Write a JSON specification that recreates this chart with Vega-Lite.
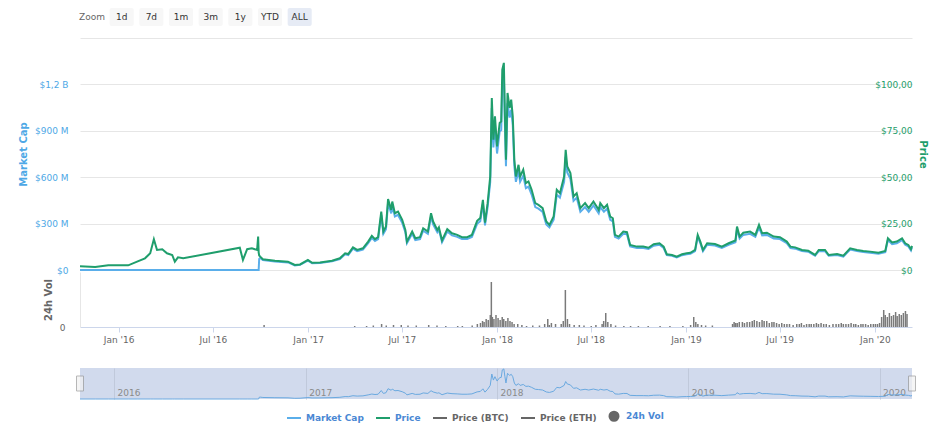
{
  "$schema": "https://vega.github.io/schema/vega-lite/v6.json",
  "padding": {"left": 18, "top": 8, "right": 5, "bottom": 0},
  "background": "white",
  "config": {
    "view": {"stroke": null},
    "font": "DejaVu Sans",
    "axis": {"labelFont": "DejaVu Sans", "titleFont": "DejaVu Sans", "labelFontSize": 9}
  },
  "datasets": {
    "buttons": [
      {"label": "Zoom"}, {"label": "1d"}, {"label": "7d"}, {"label": "1m"},
      {"label": "3m"}, {"label": "1y"}, {"label": "YTD"}, {"label": "ALL"}
    ],
    "range": [{"date": "2015-10-28"}, {"date": "2020-03-03"}],
    "prices": [
      {"date": "2015-10-28", "price": 2.0, "mcap": 0},
      {"date": "2015-11-26", "price": 1.6, "mcap": 0},
      {"date": "2015-12-21", "price": 2.5, "mcap": 0},
      {"date": "2016-01-28", "price": 2.5, "mcap": 0},
      {"date": "2016-02-14", "price": 4.5, "mcap": 0},
      {"date": "2016-02-29", "price": 6.3, "mcap": 0},
      {"date": "2016-03-10", "price": 9.0, "mcap": 0},
      {"date": "2016-03-17", "price": 16.6, "mcap": 0},
      {"date": "2016-03-23", "price": 10.8, "mcap": 0},
      {"date": "2016-04-02", "price": 11.2, "mcap": 0},
      {"date": "2016-04-11", "price": 9.0, "mcap": 0},
      {"date": "2016-04-21", "price": 8.1, "mcap": 0},
      {"date": "2016-04-26", "price": 4.5, "mcap": 0},
      {"date": "2016-05-02", "price": 6.8, "mcap": 0},
      {"date": "2016-05-12", "price": 6.3, "mcap": 0},
      {"date": "2016-08-28", "price": 12.0, "mcap": 0},
      {"date": "2016-09-03", "price": 5.4, "mcap": 0},
      {"date": "2016-09-11", "price": 11.2, "mcap": 0},
      {"date": "2016-09-20", "price": 11.7, "mcap": 0},
      {"date": "2016-09-30", "price": 10.8, "mcap": 0},
      {"date": "2016-10-02", "price": 18.0, "mcap": 0},
      {"date": "2016-10-03", "price": 9.5, "mcap": 0},
      {"date": "2016-10-04", "price": 7.8, "mcap": 72000000},
      {"date": "2016-10-06", "price": 7.2, "mcap": 78000000},
      {"date": "2016-10-11", "price": 5.8, "mcap": 64000000},
      {"date": "2016-11-03", "price": 5.0, "mcap": 55000000},
      {"date": "2016-11-28", "price": 4.5, "mcap": 49000000},
      {"date": "2016-12-11", "price": 2.7, "mcap": 29000000},
      {"date": "2016-12-21", "price": 3.0, "mcap": 33000000},
      {"date": "2017-01-05", "price": 5.4, "mcap": 61000000},
      {"date": "2017-01-13", "price": 3.9, "mcap": 44000000},
      {"date": "2017-01-28", "price": 4.1, "mcap": 46000000},
      {"date": "2017-02-20", "price": 5.0, "mcap": 56000000},
      {"date": "2017-03-07", "price": 6.3, "mcap": 71000000},
      {"date": "2017-03-17", "price": 9.0, "mcap": 102000000},
      {"date": "2017-03-23", "price": 8.6, "mcap": 97000000},
      {"date": "2017-04-01", "price": 12.2, "mcap": 138000000},
      {"date": "2017-04-09", "price": 10.8, "mcap": 122000000},
      {"date": "2017-04-20", "price": 11.7, "mcap": 132000000},
      {"date": "2017-04-30", "price": 15.3, "mcap": 173000000},
      {"date": "2017-05-07", "price": 18.4, "mcap": 208000000},
      {"date": "2017-05-13", "price": 16.6, "mcap": 188000000},
      {"date": "2017-05-19", "price": 17.7, "mcap": 200000000},
      {"date": "2017-05-25", "price": 31.5, "mcap": 356000000},
      {"date": "2017-05-29", "price": 20.7, "mcap": 234000000},
      {"date": "2017-06-03", "price": 23.4, "mcap": 264000000},
      {"date": "2017-06-07", "price": 38.2, "mcap": 432000000},
      {"date": "2017-06-13", "price": 32.4, "mcap": 366000000},
      {"date": "2017-06-15", "price": 36.9, "mcap": 417000000},
      {"date": "2017-06-20", "price": 30.6, "mcap": 346000000},
      {"date": "2017-06-26", "price": 31.5, "mcap": 356000000},
      {"date": "2017-07-04", "price": 27.0, "mcap": 305000000},
      {"date": "2017-07-10", "price": 21.6, "mcap": 244000000},
      {"date": "2017-07-13", "price": 15.3, "mcap": 173000000},
      {"date": "2017-07-23", "price": 20.7, "mcap": 234000000},
      {"date": "2017-07-29", "price": 17.1, "mcap": 193000000},
      {"date": "2017-08-07", "price": 17.7, "mcap": 200000000},
      {"date": "2017-08-13", "price": 22.5, "mcap": 254000000},
      {"date": "2017-08-22", "price": 20.7, "mcap": 234000000},
      {"date": "2017-08-28", "price": 30.6, "mcap": 346000000},
      {"date": "2017-09-01", "price": 26.1, "mcap": 295000000},
      {"date": "2017-09-09", "price": 21.6, "mcap": 244000000},
      {"date": "2017-09-12", "price": 23.0, "mcap": 260000000},
      {"date": "2017-09-18", "price": 15.9, "mcap": 180000000},
      {"date": "2017-09-28", "price": 22.0, "mcap": 249000000},
      {"date": "2017-10-07", "price": 19.8, "mcap": 224000000},
      {"date": "2017-10-17", "price": 18.9, "mcap": 214000000},
      {"date": "2017-10-26", "price": 17.7, "mcap": 200000000},
      {"date": "2017-11-05", "price": 17.7, "mcap": 200000000},
      {"date": "2017-11-14", "price": 18.9, "mcap": 214000000},
      {"date": "2017-11-24", "price": 26.5, "mcap": 299000000},
      {"date": "2017-11-30", "price": 28.0, "mcap": 316000000},
      {"date": "2017-12-05", "price": 37.8, "mcap": 427000000},
      {"date": "2017-12-09", "price": 25.5, "mcap": 288000000},
      {"date": "2017-12-14", "price": 36.0, "mcap": 407000000},
      {"date": "2017-12-19", "price": 50.4, "mcap": 570000000},
      {"date": "2017-12-22", "price": 92.7, "mcap": 1048000000},
      {"date": "2017-12-25", "price": 70.2, "mcap": 793000000},
      {"date": "2017-12-28", "price": 82.8, "mcap": 936000000},
      {"date": "2018-01-01", "price": 66.6, "mcap": 753000000},
      {"date": "2018-01-06", "price": 79.2, "mcap": 895000000},
      {"date": "2018-01-09", "price": 80.1, "mcap": 905000000},
      {"date": "2018-01-11", "price": 108.0, "mcap": 1220000000},
      {"date": "2018-01-14", "price": 111.6, "mcap": 1261000000},
      {"date": "2018-01-16", "price": 82.8, "mcap": 936000000},
      {"date": "2018-01-18", "price": 59.4, "mcap": 671000000},
      {"date": "2018-01-21", "price": 95.4, "mcap": 1078000000},
      {"date": "2018-01-25", "price": 87.3, "mcap": 986000000},
      {"date": "2018-01-28", "price": 91.8, "mcap": 1037000000},
      {"date": "2018-01-31", "price": 82.8, "mcap": 936000000},
      {"date": "2018-02-03", "price": 59.4, "mcap": 671000000},
      {"date": "2018-02-06", "price": 50.4, "mcap": 570000000},
      {"date": "2018-02-11", "price": 56.7, "mcap": 641000000},
      {"date": "2018-02-14", "price": 50.4, "mcap": 570000000},
      {"date": "2018-02-20", "price": 54.0, "mcap": 610000000},
      {"date": "2018-02-25", "price": 46.8, "mcap": 529000000},
      {"date": "2018-03-02", "price": 47.7, "mcap": 539000000},
      {"date": "2018-03-08", "price": 43.2, "mcap": 488000000},
      {"date": "2018-03-15", "price": 36.0, "mcap": 407000000},
      {"date": "2018-03-21", "price": 35.1, "mcap": 397000000},
      {"date": "2018-03-29", "price": 33.3, "mcap": 376000000},
      {"date": "2018-04-05", "price": 26.1, "mcap": 295000000},
      {"date": "2018-04-11", "price": 24.3, "mcap": 275000000},
      {"date": "2018-04-19", "price": 28.8, "mcap": 325000000},
      {"date": "2018-04-25", "price": 43.2, "mcap": 488000000},
      {"date": "2018-05-01", "price": 41.4, "mcap": 468000000},
      {"date": "2018-05-09", "price": 50.4, "mcap": 570000000},
      {"date": "2018-05-12", "price": 64.8, "mcap": 732000000},
      {"date": "2018-05-15", "price": 55.8, "mcap": 631000000},
      {"date": "2018-05-21", "price": 52.2, "mcap": 590000000},
      {"date": "2018-05-27", "price": 39.6, "mcap": 447000000},
      {"date": "2018-06-02", "price": 41.4, "mcap": 468000000},
      {"date": "2018-06-09", "price": 33.3, "mcap": 376000000},
      {"date": "2018-06-18", "price": 36.0, "mcap": 407000000},
      {"date": "2018-06-25", "price": 33.3, "mcap": 376000000},
      {"date": "2018-07-04", "price": 36.9, "mcap": 417000000},
      {"date": "2018-07-14", "price": 32.4, "mcap": 366000000},
      {"date": "2018-07-17", "price": 36.0, "mcap": 407000000},
      {"date": "2018-07-24", "price": 33.3, "mcap": 376000000},
      {"date": "2018-07-30", "price": 35.1, "mcap": 397000000},
      {"date": "2018-08-05", "price": 28.8, "mcap": 325000000},
      {"date": "2018-08-10", "price": 27.9, "mcap": 315000000},
      {"date": "2018-08-14", "price": 18.9, "mcap": 214000000},
      {"date": "2018-08-21", "price": 18.0, "mcap": 203000000},
      {"date": "2018-08-30", "price": 20.7, "mcap": 234000000},
      {"date": "2018-09-06", "price": 20.4, "mcap": 231000000},
      {"date": "2018-09-12", "price": 13.5, "mcap": 153000000},
      {"date": "2018-09-25", "price": 12.6, "mcap": 142000000},
      {"date": "2018-10-07", "price": 12.6, "mcap": 142000000},
      {"date": "2018-10-17", "price": 12.0, "mcap": 136000000},
      {"date": "2018-10-27", "price": 13.9, "mcap": 157000000},
      {"date": "2018-11-07", "price": 14.4, "mcap": 163000000},
      {"date": "2018-11-15", "price": 12.6, "mcap": 142000000},
      {"date": "2018-11-21", "price": 8.5, "mcap": 96000000},
      {"date": "2018-12-01", "price": 8.1, "mcap": 92000000},
      {"date": "2018-12-10", "price": 7.2, "mcap": 81000000},
      {"date": "2018-12-20", "price": 8.5, "mcap": 96000000},
      {"date": "2018-12-29", "price": 9.0, "mcap": 102000000},
      {"date": "2019-01-05", "price": 9.3, "mcap": 105000000},
      {"date": "2019-01-14", "price": 10.8, "mcap": 122000000},
      {"date": "2019-01-19", "price": 18.9, "mcap": 214000000},
      {"date": "2019-01-24", "price": 15.3, "mcap": 173000000},
      {"date": "2019-01-29", "price": 10.8, "mcap": 122000000},
      {"date": "2019-02-06", "price": 14.4, "mcap": 163000000},
      {"date": "2019-02-21", "price": 14.0, "mcap": 158000000},
      {"date": "2019-03-06", "price": 12.6, "mcap": 142000000},
      {"date": "2019-03-19", "price": 14.4, "mcap": 163000000},
      {"date": "2019-04-01", "price": 15.9, "mcap": 180000000},
      {"date": "2019-04-04", "price": 23.4, "mcap": 264000000},
      {"date": "2019-04-09", "price": 18.0, "mcap": 203000000},
      {"date": "2019-04-16", "price": 20.1, "mcap": 227000000},
      {"date": "2019-04-29", "price": 20.7, "mcap": 234000000},
      {"date": "2019-05-09", "price": 18.9, "mcap": 214000000},
      {"date": "2019-05-16", "price": 24.3, "mcap": 275000000},
      {"date": "2019-05-22", "price": 19.8, "mcap": 224000000},
      {"date": "2019-05-31", "price": 20.1, "mcap": 227000000},
      {"date": "2019-06-13", "price": 18.0, "mcap": 203000000},
      {"date": "2019-06-25", "price": 17.7, "mcap": 200000000},
      {"date": "2019-07-08", "price": 15.3, "mcap": 173000000},
      {"date": "2019-07-15", "price": 12.6, "mcap": 142000000},
      {"date": "2019-07-24", "price": 12.2, "mcap": 138000000},
      {"date": "2019-08-06", "price": 10.8, "mcap": 122000000},
      {"date": "2019-08-18", "price": 10.4, "mcap": 118000000},
      {"date": "2019-08-31", "price": 8.1, "mcap": 92000000},
      {"date": "2019-09-07", "price": 10.8, "mcap": 122000000},
      {"date": "2019-09-19", "price": 10.8, "mcap": 122000000},
      {"date": "2019-09-26", "price": 8.1, "mcap": 92000000},
      {"date": "2019-10-12", "price": 8.6, "mcap": 97000000},
      {"date": "2019-10-24", "price": 7.7, "mcap": 87000000},
      {"date": "2019-11-06", "price": 11.7, "mcap": 132000000},
      {"date": "2019-11-19", "price": 10.8, "mcap": 122000000},
      {"date": "2019-12-01", "price": 10.3, "mcap": 116000000},
      {"date": "2019-12-14", "price": 9.9, "mcap": 112000000},
      {"date": "2019-12-30", "price": 9.3, "mcap": 105000000},
      {"date": "2020-01-12", "price": 10.3, "mcap": 116000000},
      {"date": "2020-01-17", "price": 17.1, "mcap": 193000000},
      {"date": "2020-01-25", "price": 14.8, "mcap": 167000000},
      {"date": "2020-02-03", "price": 15.3, "mcap": 173000000},
      {"date": "2020-02-13", "price": 17.1, "mcap": 193000000},
      {"date": "2020-02-19", "price": 14.4, "mcap": 163000000},
      {"date": "2020-02-25", "price": 13.5, "mcap": 153000000},
      {"date": "2020-03-01", "price": 11.2, "mcap": 127000000},
      {"date": "2020-03-03", "price": 13.0, "mcap": 147000000}
    ],
    "volume": [
      {"date": "2016-10-08", "vol": 2000000},
      {"date": "2017-04-01", "vol": 1000000},
      {"date": "2017-04-24", "vol": 1000000},
      {"date": "2017-05-07", "vol": 1500000},
      {"date": "2017-05-23", "vol": 3000000},
      {"date": "2017-06-01", "vol": 1500000},
      {"date": "2017-06-15", "vol": 2000000},
      {"date": "2017-06-30", "vol": 2000000},
      {"date": "2017-07-13", "vol": 1500000},
      {"date": "2017-07-29", "vol": 1500000},
      {"date": "2017-08-22", "vol": 2000000},
      {"date": "2017-09-07", "vol": 1500000},
      {"date": "2017-09-24", "vol": 1000000},
      {"date": "2017-10-17", "vol": 1000000},
      {"date": "2017-10-26", "vol": 1000000},
      {"date": "2017-11-14", "vol": 1500000},
      {"date": "2017-11-24", "vol": 3000000},
      {"date": "2017-11-30", "vol": 4000000},
      {"date": "2017-12-04", "vol": 6000000},
      {"date": "2017-12-07", "vol": 5000000},
      {"date": "2017-12-11", "vol": 8000000},
      {"date": "2017-12-15", "vol": 7000000},
      {"date": "2017-12-19", "vol": 12000000},
      {"date": "2017-12-21", "vol": 45000000},
      {"date": "2017-12-23", "vol": 10000000},
      {"date": "2017-12-26", "vol": 8000000},
      {"date": "2017-12-30", "vol": 12000000},
      {"date": "2018-01-03", "vol": 9000000},
      {"date": "2018-01-07", "vol": 7000000},
      {"date": "2018-01-11", "vol": 10000000},
      {"date": "2018-01-14", "vol": 8000000},
      {"date": "2018-01-18", "vol": 6000000},
      {"date": "2018-01-22", "vol": 9000000},
      {"date": "2018-01-26", "vol": 6000000},
      {"date": "2018-01-30", "vol": 5000000},
      {"date": "2018-02-03", "vol": 3000000},
      {"date": "2018-02-10", "vol": 3000000},
      {"date": "2018-02-18", "vol": 2000000},
      {"date": "2018-02-27", "vol": 1000000},
      {"date": "2018-03-11", "vol": 1500000},
      {"date": "2018-03-24", "vol": 1500000},
      {"date": "2018-04-03", "vol": 3000000},
      {"date": "2018-04-09", "vol": 8000000},
      {"date": "2018-04-12", "vol": 2000000},
      {"date": "2018-04-16", "vol": 4000000},
      {"date": "2018-04-24", "vol": 3000000},
      {"date": "2018-05-05", "vol": 3000000},
      {"date": "2018-05-09", "vol": 6000000},
      {"date": "2018-05-13", "vol": 37000000},
      {"date": "2018-05-17", "vol": 8000000},
      {"date": "2018-05-21", "vol": 3000000},
      {"date": "2018-05-30", "vol": 2000000},
      {"date": "2018-06-09", "vol": 2000000},
      {"date": "2018-06-18", "vol": 1500000},
      {"date": "2018-07-02", "vol": 1000000},
      {"date": "2018-07-11", "vol": 2000000},
      {"date": "2018-07-23", "vol": 3000000},
      {"date": "2018-07-26", "vol": 6000000},
      {"date": "2018-07-30", "vol": 14000000},
      {"date": "2018-08-03", "vol": 5000000},
      {"date": "2018-08-09", "vol": 3000000},
      {"date": "2018-08-18", "vol": 1500000},
      {"date": "2018-09-03", "vol": 1000000},
      {"date": "2018-09-16", "vol": 1000000},
      {"date": "2018-10-01", "vol": 1000000},
      {"date": "2018-10-20", "vol": 1000000},
      {"date": "2018-11-12", "vol": 1000000},
      {"date": "2018-12-01", "vol": 1000000},
      {"date": "2018-12-26", "vol": 1000000},
      {"date": "2019-01-10", "vol": 2000000},
      {"date": "2019-01-16", "vol": 10000000},
      {"date": "2019-01-20", "vol": 5000000},
      {"date": "2019-01-24", "vol": 3000000},
      {"date": "2019-01-31", "vol": 2000000},
      {"date": "2019-02-08", "vol": 1500000},
      {"date": "2019-02-21", "vol": 1500000},
      {"date": "2019-04-01", "vol": 3000000},
      {"date": "2019-04-04", "vol": 5000000},
      {"date": "2019-04-07", "vol": 4000000},
      {"date": "2019-04-10", "vol": 4000000},
      {"date": "2019-04-14", "vol": 5000000},
      {"date": "2019-04-20", "vol": 5000000},
      {"date": "2019-04-24", "vol": 4000000},
      {"date": "2019-04-29", "vol": 5000000},
      {"date": "2019-05-04", "vol": 5000000},
      {"date": "2019-05-09", "vol": 6000000},
      {"date": "2019-05-13", "vol": 7000000},
      {"date": "2019-05-18", "vol": 6000000},
      {"date": "2019-05-23", "vol": 5000000},
      {"date": "2019-05-28", "vol": 7000000},
      {"date": "2019-06-01", "vol": 6000000},
      {"date": "2019-06-06", "vol": 6000000},
      {"date": "2019-06-11", "vol": 4000000},
      {"date": "2019-06-16", "vol": 5000000},
      {"date": "2019-06-20", "vol": 5000000},
      {"date": "2019-06-25", "vol": 4000000},
      {"date": "2019-06-30", "vol": 3000000},
      {"date": "2019-07-05", "vol": 4000000},
      {"date": "2019-07-10", "vol": 3000000},
      {"date": "2019-07-15", "vol": 3000000},
      {"date": "2019-07-20", "vol": 3000000},
      {"date": "2019-07-27", "vol": 2000000},
      {"date": "2019-08-03", "vol": 3000000},
      {"date": "2019-08-08", "vol": 3000000},
      {"date": "2019-08-12", "vol": 4000000},
      {"date": "2019-08-17", "vol": 2000000},
      {"date": "2019-08-22", "vol": 3000000},
      {"date": "2019-08-27", "vol": 3000000},
      {"date": "2019-08-31", "vol": 3000000},
      {"date": "2019-09-05", "vol": 3000000},
      {"date": "2019-09-10", "vol": 4000000},
      {"date": "2019-09-14", "vol": 3000000},
      {"date": "2019-09-19", "vol": 4000000},
      {"date": "2019-09-24", "vol": 3000000},
      {"date": "2019-09-29", "vol": 3000000},
      {"date": "2019-10-05", "vol": 2000000},
      {"date": "2019-10-12", "vol": 3000000},
      {"date": "2019-10-18", "vol": 3000000},
      {"date": "2019-10-23", "vol": 3000000},
      {"date": "2019-10-28", "vol": 4000000},
      {"date": "2019-11-01", "vol": 3000000},
      {"date": "2019-11-06", "vol": 3000000},
      {"date": "2019-11-11", "vol": 3000000},
      {"date": "2019-11-16", "vol": 4000000},
      {"date": "2019-11-21", "vol": 3000000},
      {"date": "2019-11-25", "vol": 3000000},
      {"date": "2019-11-30", "vol": 2000000},
      {"date": "2019-12-05", "vol": 3000000},
      {"date": "2019-12-09", "vol": 3000000},
      {"date": "2019-12-14", "vol": 3000000},
      {"date": "2019-12-19", "vol": 2000000},
      {"date": "2019-12-24", "vol": 3000000},
      {"date": "2019-12-29", "vol": 3000000},
      {"date": "2020-01-02", "vol": 3000000},
      {"date": "2020-01-06", "vol": 3000000},
      {"date": "2020-01-10", "vol": 4000000},
      {"date": "2020-01-14", "vol": 10000000},
      {"date": "2020-01-18", "vol": 17000000},
      {"date": "2020-01-21", "vol": 12000000},
      {"date": "2020-01-25", "vol": 10000000},
      {"date": "2020-01-29", "vol": 14000000},
      {"date": "2020-02-02", "vol": 11000000},
      {"date": "2020-02-06", "vol": 12000000},
      {"date": "2020-02-10", "vol": 15000000},
      {"date": "2020-02-13", "vol": 11000000},
      {"date": "2020-02-17", "vol": 13000000},
      {"date": "2020-02-21", "vol": 12000000},
      {"date": "2020-02-25", "vol": 14000000},
      {"date": "2020-02-29", "vol": 16000000},
      {"date": "2020-03-03", "vol": 13000000}
    ]
  },
  "spacing": 12,
  "vconcat": [
    {
      "width": 231.7,
      "height": 18,
      "data": {"name": "buttons"},
      "layer": [
        {
          "mark": {"type": "bar", "cornerRadius": 2},
          "encoding": {
            "x": {"field": "label", "type": "nominal", "sort": null, "scale": {"type": "band", "paddingInner": 0.19, "paddingOuter": 0}, "axis": null},
            "color": {"condition": {"test": "datum.label === 'ALL'", "value": "#e6ebf5"}, "value": "#f7f7f7"},
            "opacity": {"condition": {"test": "datum.label === 'Zoom'", "value": 0}, "value": 1}
          }
        },
        {
          "mark": {"type": "text", "fontSize": 9, "baseline": "middle", "font": "DejaVu Sans"},
          "encoding": {
            "x": {"field": "label", "type": "nominal", "sort": null, "axis": null},
            "text": {"field": "label"},
            "color": {"condition": {"test": "datum.label === 'Zoom'", "value": "#666666"}, "value": "#333333"},
            "fontWeight": {"condition": {"test": "datum.label === 'ALL'", "value": "bold"}, "value": "normal"}
          }
        }
      ]
    },
    {
      "spacing": 22,
      "vconcat": [
        {
          "bounds": "flush",
          "spacing": 2,
          "vconcat": [
            {
              "width": 832,
              "height": 232,
              "data": {"name": "prices"},
              "layer": [
                {
                  "mark": {"type": "line", "strokeWidth": 2},
                  "encoding": {
                    "x": {"field": "date", "type": "temporal", "scale": {"type": "utc", "domain": [{"year": 2015, "month": 10, "date": 28, "utc": true}, {"year": 2020, "month": 3, "date": 3, "utc": true}], "nice": false}, "axis": null},
                    "y": {"field": "mcap", "type": "quantitative", "scale": {"domain": [0, 1500000000], "nice": false},
                      "axis": {"orient": "left", "values": [0, 300000000, 600000000, 900000000, 1200000000, 1500000000],
                        "labelExpr": "datum.value == 0 ? '$0' : datum.value >= 1500000000 ? '' : datum.value >= 1000000000 ? '$' + replace(format(datum.value / 1000000000, '.1f'), '.', ',') + ' B' : '$' + format(datum.value / 1000000, 'd') + ' M'",
                        "grid": true, "gridColor": "#e6e6e6", "domain": false, "ticks": false,
                        "labelColor": "#4ea8e6", "labelPadding": 12, "labelBaseline": "middle",
                        "title": "Market Cap", "titleColor": "#4ea8e6", "titleFontSize": 10, "titleFontWeight": "bold", "titlePadding": 6}},
                    "color": {"datum": "Market Cap", "type": "nominal",
                      "scale": {"domain": ["Market Cap", "Price", "Price (BTC)", "Price (ETH)", "24h Vol"], "range": ["#5aaeea", "#1f9e6c", "#666666", "#666666", "#666666"]},
                      "legend": {"orient": "none", "legendX": 206, "legendY": 400, "direction": "horizontal", "title": null,
                        "labelFontSize": 9, "labelFontWeight": "bold", "labelFont": "DejaVu Sans",
                        "labelColor": {"expr": "datum.label === 'Price (BTC)' || datum.label === 'Price (ETH)' ? '#666666' : '#4a88d4'"},
                        "symbolType": {"expr": "datum.label === '24h Vol' ? 'circle' : 'stroke'"},
                        "symbolSize": {"expr": "datum.label === '24h Vol' ? 81 : 196"},
                        "symbolFillColor": {"expr": "datum.label === '24h Vol' ? '#666666' : 'transparent'"},
                        "symbolStrokeWidth": 2,
                        "labelOffset": 4, "columnPadding": 8}}
                  }
                },
                {
                  "mark": {"type": "line", "strokeWidth": 2},
                  "encoding": {
                    "x": {"field": "date", "type": "temporal", "axis": null},
                    "y": {"field": "price", "type": "quantitative", "scale": {"domain": [0, 125], "nice": false},
                      "axis": {"orient": "right", "values": [0, 25, 50, 75, 100],
                        "labelExpr": "datum.value == 0 ? '$0' : '$' + replace(format(datum.value, '.2f'), '.', ',')",
                        "grid": false, "domain": false, "ticks": false, "labelAlign": "right", "labelPadding": 0, "labelBaseline": "middle",
                        "labelColor": "#1f9e6c", "title": "Price", "titleColor": "#1f9e6c", "titleFontSize": 10, "titleFontWeight": "bold", "titlePadding": 5}},
                    "color": {"datum": "Price", "type": "nominal"}
                  }
                }
              ],
              "resolve": {"scale": {"y": "independent"}}
            },
            {
              "width": 832,
              "height": 55,
              "data": {"name": "volume"},
              "mark": {"type": "bar", "width": 1.5, "color": "#7a7a7a"},
              "encoding": {
                "x": {"field": "date", "type": "temporal",
                  "scale": {"type": "utc", "domain": [{"year": 2015, "month": 10, "date": 28, "utc": true}, {"year": 2020, "month": 3, "date": 3, "utc": true}], "nice": false},
                  "axis": {"format": "%b '%y", "title": null, "values": [
                    {"year": 2016, "month": 1, "date": 1, "utc": true}, {"year": 2016, "month": 7, "date": 1, "utc": true},
                    {"year": 2017, "month": 1, "date": 1, "utc": true}, {"year": 2017, "month": 7, "date": 1, "utc": true},
                    {"year": 2018, "month": 1, "date": 1, "utc": true}, {"year": 2018, "month": 7, "date": 1, "utc": true},
                    {"year": 2019, "month": 1, "date": 1, "utc": true}, {"year": 2019, "month": 7, "date": 1, "utc": true},
                    {"year": 2020, "month": 1, "date": 1, "utc": true}],
                    "domainColor": "#ccd6eb", "tickColor": "#ccd6eb", "tickSize": 5, "labelColor": "#666666", "labelPadding": 3,
                    "labelFlush": false, "labelOverlap": false, "grid": false}},
                "y": {"field": "vol", "type": "quantitative", "scale": {"domain": [0, 55000000], "nice": false},
                  "axis": {"values": [0], "labelExpr": "'0'", "labelColor": "#666666", "labelPadding": 15, "labelBaseline": "middle",
                    "domain": true, "domainColor": "#e6e6e6", "ticks": false, "grid": false,
                    "title": "24h Vol", "titleColor": "#666666", "titleFontSize": 10, "titleFontWeight": "bold", "titlePadding": 6}}
              }
            }
          ]
        },
        {
          "width": 832,
          "height": 31,
          "view": {"fill": "#d1daed", "stroke": null},
          "layer": [
            {
              "data": {"name": "prices"},
              "mark": {"type": "line", "strokeWidth": 1, "color": "#6aa9e0"},
              "encoding": {
                "x": {"field": "date", "type": "temporal",
                  "scale": {"type": "utc", "domain": [{"year": 2015, "month": 10, "date": 28, "utc": true}, {"year": 2020, "month": 3, "date": 3, "utc": true}], "nice": false},
                  "axis": {"format": "%Y", "title": null, "values": [
                    {"year": 2016, "month": 1, "date": 1, "utc": true}, {"year": 2017, "month": 1, "date": 1, "utc": true},
                    {"year": 2018, "month": 1, "date": 1, "utc": true}, {"year": 2019, "month": 1, "date": 1, "utc": true},
                    {"year": 2020, "month": 1, "date": 1, "utc": true}],
                    "grid": true, "gridColor": "#c0c9db", "domain": false, "ticks": false,
                    "labelAlign": "left", "labelBaseline": "alphabetic", "labelPadding": -4, "labelOffset": 3,
                    "labelColor": "#8a8a8a", "labelFlush": false, "labelOverlap": false}},
                "y": {"field": "mcap", "type": "quantitative", "scale": {"domain": [0, 1300000000], "nice": false}, "axis": null}
              }
            },
            {
              "data": {"name": "range"},
              "mark": {"type": "tick", "size": 15, "thickness": 7, "color": "#f2f2f2", "stroke": "#999999", "strokeWidth": 1},
              "encoding": {
                "x": {"field": "date", "type": "temporal"}
              }
            }
          ]
        }
      ]
    }
  ]
}
